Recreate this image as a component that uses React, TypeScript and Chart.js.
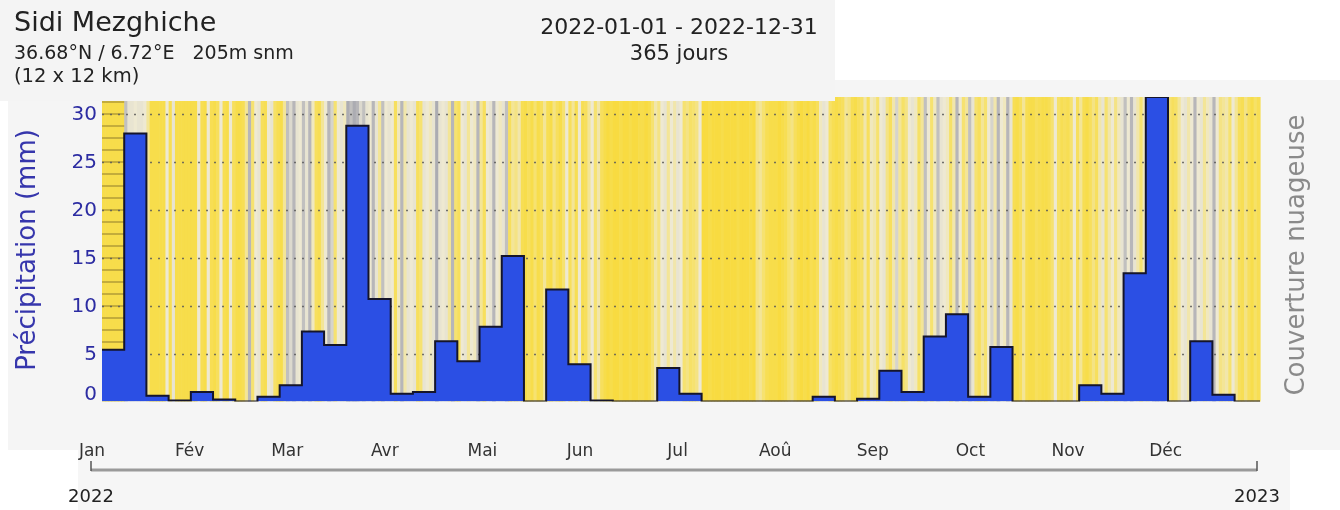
import React, { useEffect, useRef } from "react";
import { Chart, registerables } from "chart.js";

Chart.register(...registerables);

// Weekly precipitation (mm), weeks starting 2022-01-01
const WEEK_PRECIP = [
  5.4, 28.0, 0.6, 0.1, 1.0, 0.2, 0.0, 0.5, 1.7, 7.3, 5.9, 28.8, 10.7,
  0.8, 1.0, 6.3, 4.2, 7.8, 15.2, 0.0, 11.7, 3.9, 0.1, 0.0, 0.0, 3.5, 0.8,
  0.0, 0.0, 0.0, 0.0, 0.0, 0.5, 0.0, 0.3, 3.2, 1.0, 6.8, 9.1, 0.5,
  5.7, 0.0, 0.0, 0.0, 1.7, 0.8, 13.4, 31.8, 0.0, 6.3, 0.7, 0.0, 0.0,
];

// Daily cloud cover (%), 2022-01-01 .. 2022-12-31
const CLOUD_JAN = [10,10,10,10,10,10,10,85,60,60,55,60,60,55,40,10,10,10,10,10,55,15,60,10,10,10,10,10,10,10,55];
const CLOUD_FEB = [15,10,55,15,10,20,55,15,10,55,20,10,10,15,40,90,30,55,60,20,15,55,60,25,15,10,40,85];
const CLOUD_MAR = [70,90,60,55,85,60,90,50,20,15,40,55,90,75,30,55,60,50,95,85,95,90,70,85,60,55,90,60,40,85,55];
const CLOUD_APR = [60,55,20,50,90,45,60,55,60,20,30,60,55,50,60,95,60,55,60,40,90,30,20,55,60,40,55,50,90,40];
const CLOUD_MAY = [20,55,60,90,55,50,60,85,20,40,35,45,15,10,20,10,30,10,20,40,15,10,35,20,10,30,55,20,40,15,55];
const CLOUD_JUN = [15,20,40,55,30,45,20,10,5,10,5,5,10,5,5,10,5,5,10,10,5,10,30,45,35,55,60,40,55,45];
const CLOUD_JUL = [60,55,30,35,25,30,35,55,5,5,10,5,5,5,10,5,5,5,5,10,5,5,5,10,5,35,40,30,15,10,10];
const CLOUD_AUG = [10,5,10,15,30,35,20,10,5,10,5,15,10,20,50,60,55,25,15,10,15,20,40,35,15,10,20,25,45,20,50];
const CLOUD_SEP = [45,30,55,60,35,20,45,75,40,25,35,55,60,50,25,40,85,55,30,50,85,60,55,50,25,45,90,55,30,40];
const CLOUD_OCT = [85,60,30,20,40,30,55,75,45,90,55,50,90,60,15,10,20,40,15,10,10,20,15,10,10,15,30,55,25,15,20];
const CLOUD_NOV = [15,30,55,20,40,15,10,20,35,20,45,60,30,45,55,35,50,60,85,55,90,60,45,30,50,40,55,85,90,80];
const CLOUD_DEC = [85,60,30,20,25,40,55,60,45,55,90,55,60,40,50,60,90,55,35,40,45,30,55,40,20,15,35,20,10,25,15];

const HATCH_WEEKS = [0];

const Y_TICKS = [0, 5, 10, 15, 20, 25, 30];
const MONTHS = ["Jan", "Fév", "Mar", "Avr", "Mai", "Jun", "Jul", "Aoû", "Sep", "Oct", "Nov", "Déc"];
const YEARS = ["2022", "2023"];

const TITLE = "Sidi Mezghiche";
const COORDS = "36.68°N / 6.72°E   205m snm";
const GRID_TXT = "(12 x 12 km)";
const PERIOD = "2022-01-01 - 2022-12-31";
const DAYS_TXT = "365 jours";
const Y_TITLE = "Précipitation (mm)";
const Y2_TITLE = "Couverture nuageuse";

const FONT = "'DejaVu Sans', 'Liberation Sans', sans-serif";

const CLOUD = [
  ...CLOUD_JAN, ...CLOUD_FEB, ...CLOUD_MAR, ...CLOUD_APR, ...CLOUD_MAY, ...CLOUD_JUN,
  ...CLOUD_JUL, ...CLOUD_AUG, ...CLOUD_SEP, ...CLOUD_OCT, ...CLOUD_NOV, ...CLOUD_DEC,
];

const STOPS: [number, number[]][] = [
  [0, [248, 218, 56]],
  [30, [246, 226, 112]],
  [55, [238, 233, 210]],
  [75, [214, 212, 204]],
  [100, [162, 162, 172]],
];

function cloudColor(c: number) {
  for (let i = 1; i < STOPS.length; i++) {
    const [v1, c1] = STOPS[i];
    const [v0, c0] = STOPS[i - 1];
    if (c <= v1) {
      const t = (c - v0) / (v1 - v0);
      const r = c0.map((a, k) => Math.round(a + (c1[k] - a) * t));
      return `rgb(${r[0]},${r[1]},${r[2]})`;
    }
  }
  const l = STOPS[STOPS.length - 1][1];
  return `rgb(${l[0]},${l[1]},${l[2]})`;
}

export default function App() {
  const ref = useRef<HTMLCanvasElement | null>(null);

  useEffect(() => {
    const canvas = ref.current!;
    const points = WEEK_PRECIP.map((v, i) => ({ x: i * 7, y: v }));
    points.push({ x: 365, y: WEEK_PRECIP[WEEK_PRECIP.length - 1] });

    const bgPlugin = {
      id: "bgPlugin",
      beforeDraw(chart: any) {
        const { ctx, chartArea: a, scales } = chart;
        const xs = scales.x;
        const ys = scales.y;
        ctx.save();
        ctx.fillStyle = "#ffffff";
        ctx.fillRect(0, 0, 1340, 510);
        ctx.fillStyle = "#f5f5f5";
        ctx.fillRect(8, 80, 1332, 370);
        ctx.fillStyle = "#f6f6f6";
        ctx.fillRect(78, 450, 1212, 60);
        // cloud stripes
        for (let d = 0; d < CLOUD.length; d++) {
          const x0 = xs.getPixelForValue(d);
          const x1 = xs.getPixelForValue(d + 1);
          ctx.fillStyle = cloudColor(CLOUD[d]);
          ctx.fillRect(x0, a.top, x1 - x0 + 0.6, a.bottom - a.top);
        }
        // hatch
        ctx.strokeStyle = "rgba(125,105,40,0.7)";
        ctx.lineWidth = 1.2;
        HATCH_WEEKS.forEach((w) => {
          const x0 = xs.getPixelForValue(w * 7);
          const x1 = xs.getPixelForValue(w * 7 + 7);
          for (let y = a.top + 5; y < a.bottom; y += 12) {
            ctx.beginPath();
            ctx.moveTo(x0, y);
            ctx.lineTo(x1, y);
            ctx.stroke();
          }
        });
        // grid
        ctx.strokeStyle = "rgba(90,90,90,0.85)";
        ctx.lineWidth = 1.6;
        ctx.setLineDash([2, 6]);
        Y_TICKS.forEach((t) => {
          if (t === 0) return;
          const y = Math.round(ys.getPixelForValue(t)) + 0.5;
          ctx.beginPath();
          ctx.moveTo(a.left, y);
          ctx.lineTo(a.right, y);
          ctx.stroke();
        });
        ctx.restore();
      },
    };

    const fgPlugin = {
      id: "fgPlugin",
      afterDraw(chart: any) {
        const { ctx, scales } = chart;
        const ys = scales.y;
        ctx.save();
        // header panel
        ctx.fillStyle = "#f4f4f4";
        ctx.fillRect(0, 0, 835, 101);
        ctx.fillStyle = "#222";
        ctx.textBaseline = "alphabetic";
        ctx.textAlign = "left";
        ctx.font = `27px ${FONT}`;
        ctx.fillText(TITLE, 14, 31);
        ctx.font = `19px ${FONT}`;
        ctx.fillText(COORDS, 14, 59);
        ctx.font = `19.5px ${FONT}`;
        ctx.fillText(GRID_TXT, 14, 82);
        ctx.textAlign = "center";
        ctx.font = `22px ${FONT}`;
        ctx.fillText(PERIOD, 679, 34);
        ctx.font = `21px ${FONT}`;
        ctx.fillText(DAYS_TXT, 679, 60);

        // y ticks
        ctx.fillStyle = "#2c2ca2";
        ctx.font = `20px ${FONT}`;
        ctx.textAlign = "right";
        ctx.textBaseline = "middle";
        Y_TICKS.forEach((t) => {
          let y = ys.getPixelForValue(t) + 1;
          if (t === 0) y -= 8;
          ctx.fillText(String(t), 97, y);
        });

        // y title
        ctx.save();
        ctx.translate(28, 250);
        ctx.rotate(-Math.PI / 2);
        ctx.textAlign = "center";
        ctx.fillStyle = "#3636ac";
        ctx.font = `26px ${FONT}`;
        ctx.fillText(Y_TITLE, 0, 0);
        ctx.restore();

        // right title
        ctx.save();
        ctx.translate(1297, 255);
        ctx.rotate(-Math.PI / 2);
        ctx.textAlign = "center";
        ctx.textBaseline = "middle";
        ctx.fillStyle = "#8a8a8a";
        ctx.font = `26px ${FONT}`;
        ctx.fillText(Y2_TITLE, 0, 0);
        ctx.restore();

        // month labels
        ctx.fillStyle = "#333";
        ctx.font = `17px ${FONT}`;
        ctx.textAlign = "center";
        ctx.textBaseline = "middle";
        MONTHS.forEach((m, i) => {
          ctx.fillText(m, 92 + i * 97.6, 452);
        });

        // year axis
        const yl = 470;
        ctx.strokeStyle = "#9a9a9a";
        ctx.lineWidth = 3;
        ctx.beginPath();
        ctx.moveTo(91, yl);
        ctx.lineTo(1257, yl);
        ctx.stroke();
        ctx.strokeStyle = "#555";
        ctx.lineWidth = 1.5;
        [91, 1257].forEach((x) => {
          ctx.beginPath();
          ctx.moveTo(x, yl - 9);
          ctx.lineTo(x, yl + 1);
          ctx.stroke();
        });
        ctx.fillStyle = "#222";
        ctx.font = `18px ${FONT}`;
        ctx.fillText(YEARS[0], 91, 497);
        ctx.fillText(YEARS[1], 1257, 497);
        ctx.restore();
      },
    };

    const chart = new Chart(canvas, {
      type: "line",
      data: {
        datasets: [
          {
            data: points,
            stepped: true,
            fill: "origin",
            backgroundColor: "#2b4fe4",
            borderColor: "#15152a",
            borderWidth: 2,
            pointRadius: 0,
          } as any,
        ],
      },
      options: {
        animation: false,
        responsive: false,
        devicePixelRatio: 1,
        layout: { padding: { left: 102, right: 80, top: 97, bottom: 108.5 } },
        scales: {
          x: { type: "linear", min: 0, max: 365, display: false },
          y: { min: 0, max: 31.8, display: false },
        },
        plugins: { legend: { display: false }, tooltip: { enabled: false } },
      },
      plugins: [bgPlugin, fgPlugin],
    });
    return () => chart.destroy();
  }, []);

  return (
    <div style={{ position: "absolute", left: 0, top: 0, width: 1340, height: 510 }}>
      <canvas ref={ref} width={1340} height={510} style={{ display: "block" }} />
    </div>
  );
}
